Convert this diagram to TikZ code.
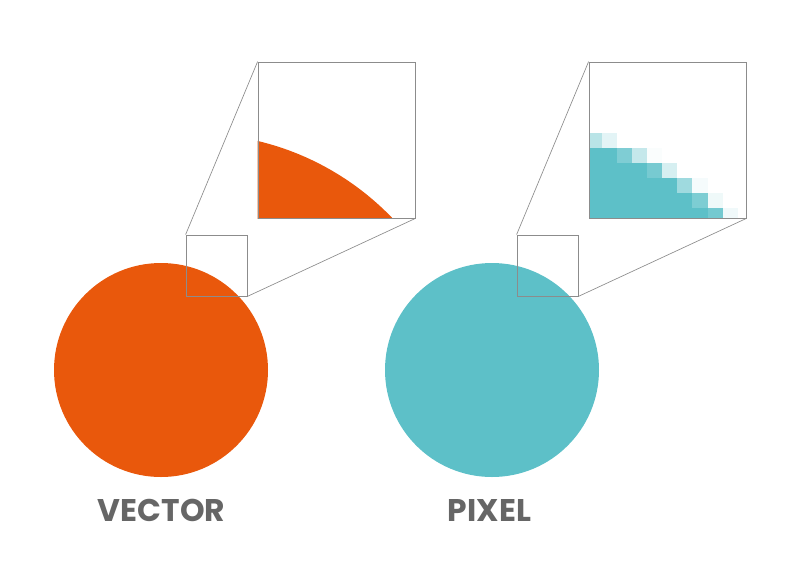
\documentclass[tikz,border=0pt]{standalone}
\usepackage{fontspec}
\newfontfamily\labelfont{Poppins}
\usetikzlibrary{positioning}
\pgfdeclarelayer{background}
\pgfsetlayers{background,main}
\definecolor{vecorange}{RGB}{233,88,12}
\definecolor{pixteal}{RGB}{93,192,200}
\definecolor{framegray}{RGB}{140,140,140}
\definecolor{textgray}{RGB}{102,102,102}

\begin{document}
\begin{tikzpicture}[x=0.75pt,y=-0.75pt,
    disc/.style={circle,minimum size=160.5pt,inner sep=0pt},
    lens/.style={draw=framegray,line width=0.6pt,minimum size=45.75pt,inner sep=0pt},
    zoombox/.style={draw=framegray,line width=0.6pt,minimum width=117.75pt,minimum height=117pt,inner sep=0pt},
    ray/.style={draw=framegray,line width=0.5pt},
    caption/.style={font=\labelfont\bfseries\fontsize{23.5}{24}\selectfont,text=textgray,inner sep=0pt}]
  \useasboundingbox (0,0) rectangle (800,579);

  % vector side
  \node[disc,fill=vecorange] (vdisc) at (161,370) {};
  \node[lens] (vlens) at (216.5,265.5) {};
  \node[zoombox] (vzoom) at (336.5,140) {};
  \begin{pgfonlayer}{background}
    \begin{scope}
      \clip (vzoom.north west) rectangle (vzoom.south east);
      \fill[vecorange] (193.7,409) circle[radius=275.5];
    \end{scope}
  \end{pgfonlayer}
  \path[ray] (vlens.north west) -- (vzoom.north west)
             (vlens.south east) -- (vzoom.south east);
  \node[caption,anchor=base] (vcap) at (161.5,521) {VECTOR};

  % pixel side
  \node[disc,fill=pixteal] (pdisc) at (492,370) {};
  \node[lens] (plens) at (547.5,265.5) {};
  \node[zoombox] (pzoom) at (667.5,140) {};
  \begin{pgfonlayer}{background}
    \fill[pixteal] (589,148) -| (617,163) -| (647,178) -| (677,193)
                   -| (692,208) -| (708,218) -| cycle;
    \foreach \xa/\xb/\ya/\yb/\shade in {589/602/133/148/43, 602/617/133/148/17,
        617/632/148/163/79, 632/647/148/163/36, 647/662/148/163/3,
        647/662/163/178/84, 662/677/163/178/25,
        677/692/178/193/59, 692/708/178/193/6,
        692/708/193/208/80, 708/723/193/208/10,
        708/723/208/218/86, 723/738/208/218/9}
      \fill[pixteal!\shade] (\xa,\ya) rectangle (\xb,\yb);
  \end{pgfonlayer}
  \path[ray] (plens.north west) -- (pzoom.north west)
             (plens.south east) -- (pzoom.south east);
  \node[caption,anchor=base] (pcap) at (489.5,521) {PIXEL};
\end{tikzpicture}
\end{document}
